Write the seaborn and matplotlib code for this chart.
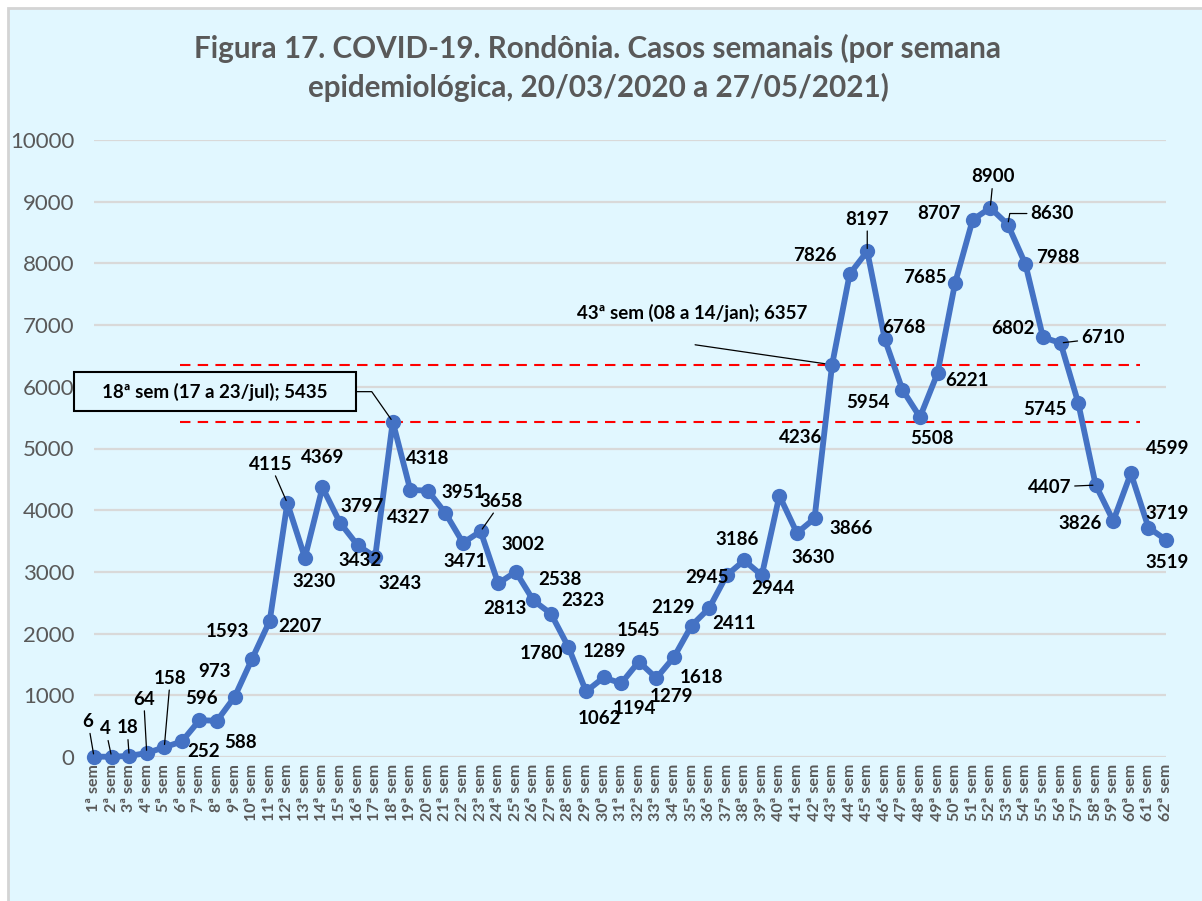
import matplotlib
matplotlib.use("Agg")
import matplotlib.pyplot as plt
from matplotlib.patches import Rectangle
import seaborn as sns
import pandas as pd

# ---------------- data ----------------
weeks = list(range(1, 63))
week_labels = [f"{w}ª sem" for w in weeks]
cases = [6, 4, 18, 64, 158, 252, 596, 588, 973, 1593,
         2207, 4115, 3230, 4369, 3797, 3432, 3243, 5435, 4327, 4318,
         3951, 3471, 3658, 2813, 3002, 2538, 2323, 1780, 1062, 1289,
         1194, 1545, 1279, 1618, 2129, 2411, 2945, 3186, 2944, 4236,
         3630, 3866, 6357, 7826, 8197, 6768, 5954, 5508, 6221, 7685,
         8707, 8900, 8630, 7988, 6802, 6710, 5745, 4407, 3826, 4599,
         3719, 3519]
y_ticks = list(range(0, 10001, 1000))
title = ("Figura 17. COVID-19. Rondônia. Casos semanais (por semana\n"
         "epidemiológica, 20/03/2020 a 27/05/2021)")
callout_18 = "18ª sem (17 a 23/jul); 5435"
callout_43 = "43ª sem (08 a 14/jan); 6357"

# ---------------- layout (label offsets in pixels, y up) ----------------
label_offsets = {
    1: (-6, 35), 2: (-6, 28), 3: (-2, 28), 4: (-3, 54), 5: (6, 69),
    6: (22, -10), 7: (2, 22), 8: (23, -22), 9: (-20, 25), 10: (-25, 27),
    11: (30, -6), 12: (-17, 39), 13: (9, -24), 14: (0, 30), 15: (22, 16),
    16: (2, -15), 17: (25, -27), 19: (-2, -27), 20: (0, 32),
    21: (18, 21), 22: (2, -19), 23: (21, 30), 24: (7, -25), 25: (7, 27),
    26: (27, 21), 27: (32, 13), 28: (-27, -6), 29: (13, -27), 30: (1, 26),
    31: (13, -25), 32: (0, 31), 33: (15, -18), 34: (28, -20), 35: (-19, 18),
    36: (25, -15), 37: (-20, -2), 38: (-7, 21), 39: (11, -13), 40: (21, 58),
    41: (16, -24), 42: (37, -10), 44: (-35, 19), 45: (0, 32),
    46: (19, 12), 47: (-34, -13), 48: (12, -21), 49: (29, -7), 50: (-30, 5),
    51: (-34, 6), 52: (3, 31), 53: (44, 11), 54: (32, 7), 55: (-30, 9),
    56: (42, 5), 57: (-33, -7), 58: (-46, -2), 59: (-33, -3), 60: (37, 25),
    61: (19, 14), 62: (1, -23),
}
leaders = {1, 2, 3, 4, 5, 12, 23, 45, 52, 53, 56, 58}

BG = "#E1F7FF"
GRAY_TXT = "#595959"
LINE_C = "#4472C4"
FONT = "Lato"

sns.set_style("white")
plt.rcParams["font.family"] = [FONT, "DejaVu Sans"]

fig = plt.figure(figsize=(12.02, 9.01), dpi=100)
fig.patch.set_facecolor("white")
W, H = 1202, 901
fig.patches.append(Rectangle((8 / W, -0.05), 1.1, 1 - 8 / H + 0.05,
                             transform=fig.transFigure, facecolor=BG,
                             edgecolor="#D4D4D4", linewidth=2, zorder=-10))

ax = fig.add_axes([94 / W, 1 - 757 / H, (1166 - 94) / W, (757 - 140) / H])
ax.set_facecolor("none")

df = pd.DataFrame({"week": weeks, "cases": cases})
sns.lineplot(data=df, x="week", y="cases", ax=ax, color=LINE_C, linewidth=4.2,
             marker="o", markersize=11, markeredgewidth=0, clip_on=False,
             zorder=5)

ax.set_xlim(1, 62)
ax.set_ylim(0, 10000)
ax.set_yticks(y_ticks)
ax.set_yticklabels([str(t) for t in y_ticks], fontsize=16, color=GRAY_TXT)
ax.set_xticks(weeks)
ax.set_xticklabels(week_labels, rotation=90, fontsize=11.5, color=GRAY_TXT,
                   fontweight="bold", va="top", ha="center")
ax.tick_params(axis="y", length=0, pad=14)
ax.tick_params(axis="x", length=0, pad=5)
ax.set_xlabel("")
ax.set_ylabel("")
for s in ax.spines.values():
    s.set_visible(False)
ax.yaxis.grid(True, color="#D9D9D9", linewidth=1.6)
ax.xaxis.grid(False)
ax.set_axisbelow(True)

# reference dashed lines at the two highlighted weeks
for wk in (18, 43):
    ax.plot([5.9, 60.5], [cases[wk - 1], cases[wk - 1]], color="red",
            linestyle=(0, (5, 3.5)), linewidth=1.5, zorder=3)

# data labels
for w, v in zip(weeks, cases):
    if w not in label_offsets:
        continue
    dx, dy = label_offsets[w]
    kw = {}
    if w in leaders:
        cs = "arc3"
        if w == 53:
            cs = "angle,angleA=0,angleB=80,rad=0"
        kw["arrowprops"] = dict(arrowstyle="-", color="black", lw=0.9,
                                shrinkA=0, shrinkB=2, connectionstyle=cs)
    ax.annotate(str(v), xy=(w, v), xytext=(dx, dy), textcoords="offset pixels",
                ha="center", va="center", fontsize=13.5, fontweight="bold",
                color="black", zorder=6, annotation_clip=False, **kw)

# callout for week 18
ax.annotate("    " + callout_18 + "    ", xy=(18, cases[17]), xytext=(-178, 30),
            textcoords="offset pixels", ha="center", va="center",
            fontsize=13.5, fontweight="bold", color="black", zorder=7,
            bbox=dict(boxstyle="square,pad=0.55", fc=BG, ec="black", lw=1.5),
            arrowprops=dict(arrowstyle="-", color="black", lw=0.9, shrinkA=0,
                            shrinkB=2, relpos=(1, 0.5),
                            connectionstyle="angle,angleA=0,angleB=125,rad=0"),
            annotation_clip=False)

# callout for week 43
ax.annotate(callout_43, xy=(43, cases[42]), xytext=(-140, 52),
            textcoords="offset pixels", ha="center", va="center",
            fontsize=13.5, fontweight="bold", color="black", zorder=7,
            annotation_clip=False)
ax.annotate("", xy=(43, cases[42]), xytext=(-137, 20),
            textcoords="offset pixels",
            arrowprops=dict(arrowstyle="-", color="black", lw=0.9, shrinkA=0,
                            shrinkB=2), annotation_clip=False)

fig.text(598 / W, 1 - 68 / H, title, ha="center", va="center", fontsize=21.3,
         fontweight="bold", color=GRAY_TXT, linespacing=1.4)

fig.savefig("out.png", dpi=100, facecolor="white")
